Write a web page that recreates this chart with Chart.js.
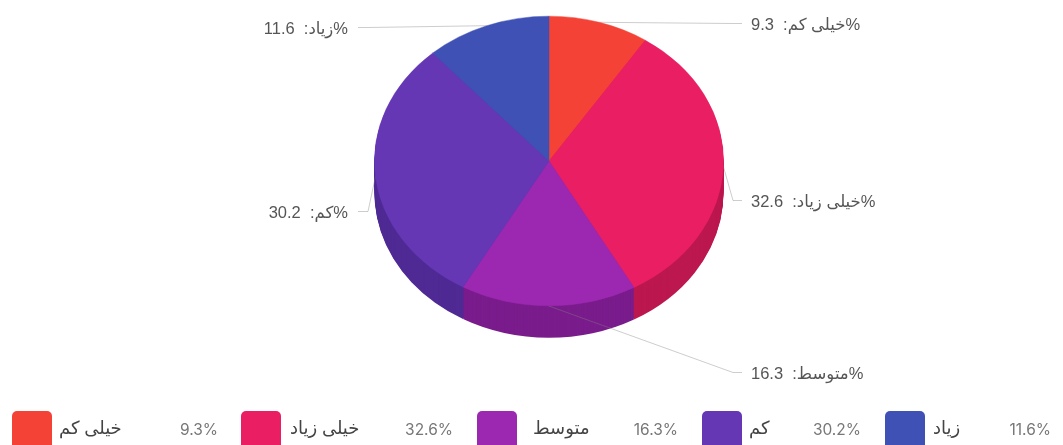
<!DOCTYPE html>
<html lang="fa">
<head>
<meta charset="utf-8">
<style>
html,body{margin:0;padding:0;background:#fff;overflow:hidden}
canvas{display:block}
</style>
<script src="https://cdn.jsdelivr.net/npm/chart.js@4"></script>
</head>
<body>
<canvas id="pie" width="1063" height="445"></canvas>
<script>
// Survey answers and their shares in percent
const categories = ['خیلی کم', 'خیلی زیاد', 'متوسط', 'کم', 'زیاد'];
const shares = [9.3, 32.6, 16.3, 30.2, 11.6];
const faceColors = ['#f44336', '#e91e63', '#9c27b0', '#6537b5', '#3f51b5'];
const sideColors = ['#c3352b', '#bc174f', '#7a1c8c', '#4f2a94', '#303f95'];

// Pie geometry: the disc is flattened vertically and extruded downwards
const tilt = 0.83;
const depth = 32;

// Callout layout, one entry per slice
const calloutY = [23, 200, 372, 211, 27];
const calloutOnRight = [true, true, true, false, false];
const legendSwatchX = [12, 241, 477, 702, 885];
const legendLabelX = [59, 290, 533, 749, 933];
const legendValueRight = [218, 453, 678, 861, 1051];

const withTilt = (ctx, arc, offset, fn) => {
  ctx.save();
  ctx.translate(arc.x, arc.y + offset);
  ctx.scale(1, tilt);
  ctx.translate(-arc.x, -arc.y);
  fn();
  ctx.restore();
};

const rimPoint = (arc) => {
  const mid = (arc.startAngle + arc.endAngle) / 2;
  return {
    x: arc.x + Math.cos(mid) * arc.outerRadius,
    y: arc.y + Math.sin(mid) * arc.outerRadius * tilt
  };
};

const pie3d = {
  id: 'pie3d',
  beforeDatasetsDraw(chart) {
    const ctx = chart.ctx;
    const arcs = chart.getDatasetMeta(0).data;
    // Side wall: stacked copies of each slice, from the bottom up
    for (let d = depth; d >= 1; d--) {
      arcs.forEach((arc, i) => {
        withTilt(ctx, arc, d, () => {
          ctx.beginPath();
          ctx.moveTo(arc.x, arc.y);
          ctx.arc(arc.x, arc.y, arc.outerRadius, arc.startAngle, arc.endAngle);
          ctx.closePath();
          ctx.fillStyle = sideColors[i];
          ctx.fill();
        });
      });
    }
    // Leader lines run from the rim of each slice to its callout
    ctx.save();
    ctx.strokeStyle = 'rgba(130,130,130,0.4)';
    ctx.lineWidth = 1;
    arcs.forEach((arc, i) => {
      const p = rimPoint(arc);
      const right = calloutOnRight[i];
      ctx.beginPath();
      ctx.moveTo(p.x, p.y);
      ctx.lineTo(right ? 733 : 368, calloutY[i] + 0.5);
      ctx.lineTo(right ? 742 : 358, calloutY[i] + 0.5);
      ctx.stroke();
    });
    ctx.restore();
  },
  beforeDatasetDraw(chart) {
    const arc = chart.getDatasetMeta(0).data[0];
    const ctx = chart.ctx;
    ctx.save();
    ctx.translate(arc.x, arc.y);
    ctx.scale(1, tilt);
    ctx.translate(-arc.x, -arc.y);
  },
  afterDatasetDraw(chart) {
    chart.ctx.restore();
  },
  afterDraw(chart) {
    const ctx = chart.ctx;
    const arcs = chart.getDatasetMeta(0).data;
    ctx.save();
    ctx.textBaseline = 'middle';
    // Slice callouts
    ctx.font = '16.5px "Liberation Sans", "DejaVu Sans", sans-serif';
    ctx.fillStyle = '#555';
    ctx.direction = 'rtl';
    arcs.forEach((arc, i) => {
      const text = '%' + categories[i] + ':  ' + shares[i];
      const right = calloutOnRight[i];
      ctx.textAlign = right ? 'left' : 'right';
      ctx.fillText(text, right ? 751 : 348, calloutY[i] + 2);
    });
    // Legend row
    categories.forEach((name, i) => {
      ctx.fillStyle = faceColors[i];
      ctx.beginPath();
      ctx.roundRect(legendSwatchX[i], 411, 40, 38, 5);
      ctx.fill();
      ctx.direction = 'rtl';
      ctx.textAlign = 'left';
      ctx.fillStyle = '#444';
      ctx.font = '18px "Noto Sans", "DejaVu Sans", sans-serif';
      ctx.fillText(name, legendLabelX[i], 429);
      ctx.direction = 'ltr';
      ctx.textAlign = 'right';
      ctx.fillStyle = '#777';
      ctx.font = '15.5px Inter, Roboto, sans-serif';
      ctx.fillText(shares[i] + '%', legendValueRight[i], 430);
    });
    ctx.restore();
  }
};

new Chart(document.getElementById('pie'), {
  type: 'pie',
  data: {
    labels: categories,
    datasets: [{
      data: shares,
      backgroundColor: faceColors,
      borderColor: faceColors,
      borderWidth: 0.5,
      radius: 174.5,
      clip: false
    }]
  },
  options: {
    responsive: false,
    animation: false,
    layout: { padding: { left: 35, right: 0, top: 0, bottom: 123 } },
    plugins: { legend: { display: false }, tooltip: { enabled: false } }
  },
  plugins: [pie3d]
});
</script>
</body>
</html>
